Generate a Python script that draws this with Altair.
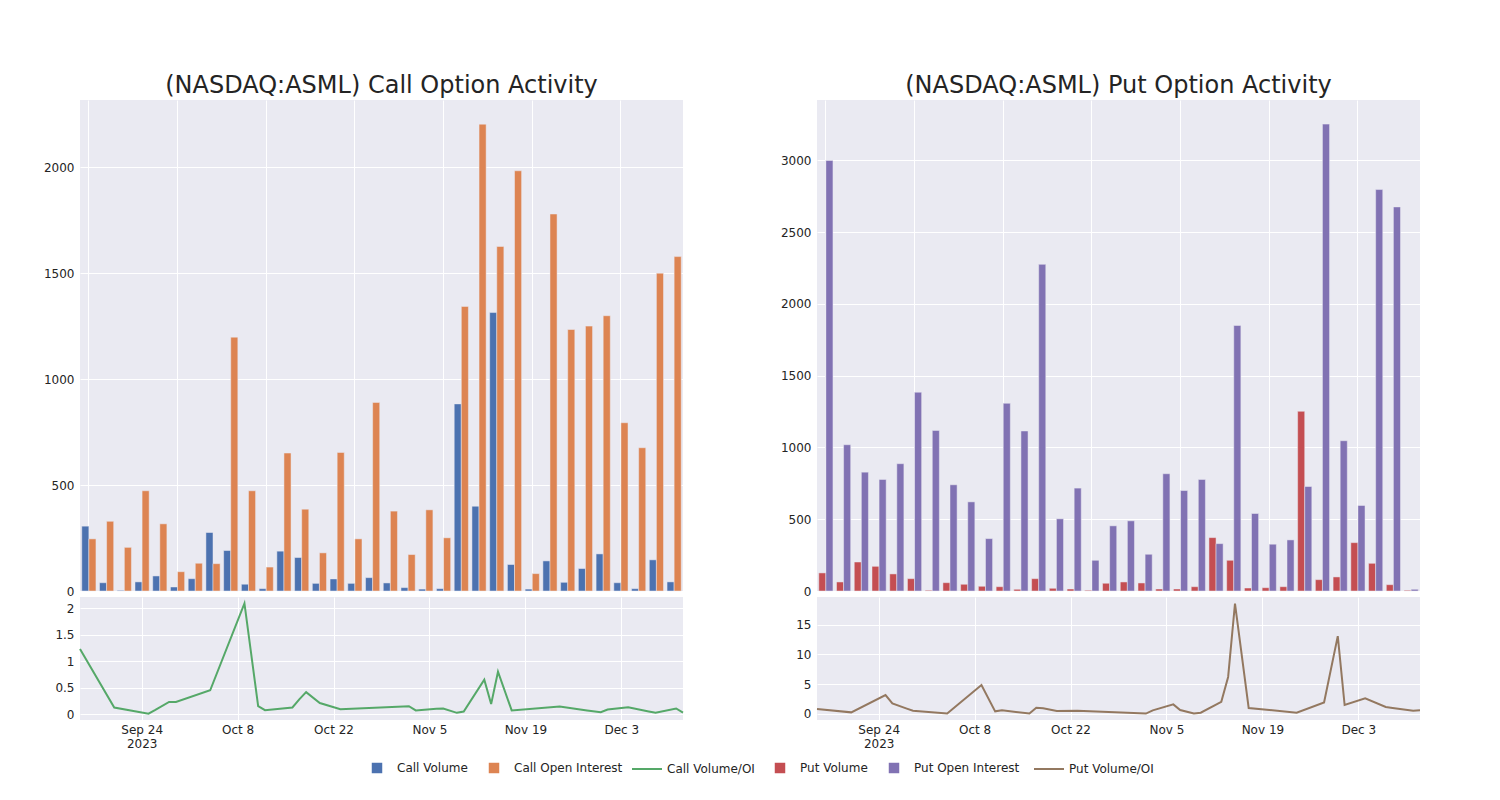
import altair as alt
import pandas as pd

dates = ["2023-09-15", "2023-09-20", "2023-09-25", "2023-09-26", "2023-09-28", "2023-09-29",
         "2023-10-04", "2023-10-09", "2023-10-11", "2023-10-12", "2023-10-16", "2023-10-17",
         "2023-10-18", "2023-10-20", "2023-10-23", "2023-11-02", "2023-11-03", "2023-11-06",
         "2023-11-07", "2023-11-09", "2023-11-10", "2023-11-13", "2023-11-14", "2023-11-15",
         "2023-11-17", "2023-11-24", "2023-11-28", "2023-11-30", "2023-12-01", "2023-12-04",
         "2023-12-07", "2023-12-08", "2023-12-11", "2023-12-12"]

call_volume = [306, 39, 3, 43, 71, 19, 58, 276, 191, 32, 11, 188, 158, 36, 57, 36, 63,
               38, 16, 9, 11, 883, 400, 1314, 125, 9, 142, 41, 106, 175, 39, 11, 147, 43]
call_oi = [246, 329, 206, 473, 317, 91, 131, 129, 1198, 473, 113, 651, 386, 180, 654, 246, 890,
           377, 172, 383, 251, 1343, 2203, 1626, 1983, 82, 1779, 1234, 1250, 1299, 794, 676, 1500, 1578]
call_ratio = [1.23, 0.126, 0.01, 0.08, 0.23, 0.23, 0.45, 2.09, 0.15, 0.075, 0.126, 0.28,
              0.415, 0.21, 0.094, 0.15, 0.07, 0.1, 0.107, 0.025, 0.05, 0.65, 0.19, 0.80,
              0.07, 0.145, 0.07, 0.038, 0.088, 0.13, 0.05, 0.025, 0.107, 0.03]

put_volume = [126, 63, 202, 172, 119, 86, 5, 58, 47, 33, 30, 12, 86, 19, 14, 5, 54,
              63, 56, 14, 14, 30, 372, 214, 21, 23, 30, 1252, 79, 98, 337, 193, 44, 5]
put_oi = [3000, 1019, 828, 777, 887, 1385, 1119, 740, 621, 365, 1308, 1115, 2276, 503, 717, 214, 454,
          489, 256, 817, 700, 777, 330, 1850, 540, 326, 356, 728, 3253, 1047, 596, 2797, 2676, 12]
put_ratio = [0.79, 0.22, 3.15, 1.74, 0.9, 0.5, 0.02, 4.83, 0.39, 0.56, 0.02, 1.0,
             0.9, 0.45, 0.5, 0.02, 0.56, 1.57, 0.62, 0.02, 0.17, 2.0, 6.2, 18.6,
             0.95, 0.17, 1.9, 13.1, 1.46, 2.58, 1.12, 0.97, 0.5, 0.56]

call_bar_names = ["Call Volume", "Call Open Interest"]
call_bar_colors = ["#4C72B0", "#DD8452"]
call_line_name = "Call Volume/OI"
call_line_color = "#55A868"
put_bar_names = ["Put Volume", "Put Open Interest"]
put_bar_colors = ["#C44E52", "#8172B3"]
put_line_name = "Put Volume/OI"
put_line_color = "#937860"

FONT = "DejaVu Sans"
BG = "#EAEAF2"
TXT = "#242424"

W = 603
H_TOP = 491
H_BOT = 123


def sq_legend(x, y):
    return alt.Legend(orient="none", legendX=x, legendY=y, direction="horizontal", title=None,
                      labelFont=FONT, labelFontSize=12, labelColor=TXT, labelOffset=14,
                      columnPadding=20, symbolType="square", symbolSize=110, symbolStrokeWidth=0,
                      symbolOpacity=1)


def ln_legend(x, y):
    return alt.Legend(orient="none", legendX=x, legendY=y, direction="horizontal", title=None,
                      labelFont=FONT, labelFontSize=12, labelColor=TXT, labelOffset=4,
                      symbolType="stroke", symbolSize=900, symbolStrokeWidth=2, symbolOpacity=1)


def bars(names, colors, vol, oi, ymax, title, lx, ly):
    df = pd.DataFrame({
        "date": dates * 2,
        "series": [names[0]] * len(dates) + [names[1]] * len(dates),
        "value": list(vol) + list(oi),
    })
    return alt.Chart(df, title=alt.TitleParams(
        title, fontSize=24, font=FONT, fontWeight="normal", color=TXT, anchor="middle", offset=2
    )).mark_bar(stroke=BG, strokeWidth=0.5).encode(
        x=alt.X("date:O", sort=dates,
                scale=alt.Scale(paddingInner=0.2, paddingOuter=0.1),
                axis=alt.Axis(values=[dates[i] for i in range(0, 34, 5)], labels=False,
                              ticks=False, domain=False, title=None, grid=True, bandPosition=0.5)),
        xOffset=alt.XOffset("series:N", sort=names,
                            scale=alt.Scale(domain=names, paddingInner=0, paddingOuter=0)),
        y=alt.Y("value:Q", scale=alt.Scale(domain=[0, ymax], nice=False, zero=False),
                axis=alt.Axis(values=list(range(0, int(ymax), 500)), title=None, format="d")),
        fill=alt.Fill("series:N", scale=alt.Scale(domain=names, range=colors), legend=sq_legend(lx, ly)),
    ).properties(width=W, height=H_TOP)


tick_dates = [alt.DateTime(year=2023, month=m, date=d, utc=True)
              for m, d in [(9, 24), (10, 8), (10, 22), (11, 5), (11, 19), (12, 3)]]


def ratio_line(name, col, vals, ydom, yticks, lx, ly):
    df = pd.DataFrame({"date": dates, "series": [name] * len(dates), "value": vals})
    return alt.Chart(df).mark_line(strokeWidth=2).encode(
        x=alt.X("date:T",
                scale=alt.Scale(type="utc", domain=[
                    alt.DateTime(year=2023, month=9, date=15, utc=True),
                    alt.DateTime(year=2023, month=12, date=12, utc=True)]),
                axis=alt.Axis(values=tick_dates, title=None, ticks=False, domain=False, grid=True,
                              labelPadding=4,
                              labelExpr="utcFormat(datum.value, '%b %-d') == 'Sep 24' ? ['Sep 24', '2023'] : utcFormat(datum.value, '%b %-d')")),
        y=alt.Y("value:Q", scale=alt.Scale(domain=ydom, nice=False, zero=False),
                axis=alt.Axis(values=yticks, title=None, format="~g")),
        stroke=alt.Stroke("series:N", scale=alt.Scale(domain=[name], range=[col]), legend=ln_legend(lx, ly)),
    ).properties(width=W, height=H_BOT)


top_left = bars(call_bar_names, call_bar_colors, call_volume, call_oi, 2317,
                "(NASDAQ:ASML) Call Option Activity", 291, 662)
top_right = bars(put_bar_names, put_bar_colors, put_volume, put_oi, 3421,
                 "(NASDAQ:ASML) Put Option Activity", -43, 662)
bot_left = ratio_line(call_line_name, call_line_color, call_ratio, [-0.11, 2.21],
                      [0, 0.5, 1, 1.5, 2], 551, 156)
bot_right = ratio_line(put_line_name, put_line_color, put_ratio, [-1.07, 19.7],
                       [0, 5, 10, 15], 216, 156)

chart = alt.concat(
    top_left, top_right, bot_left, bot_right,
    columns=2, bounds="flush", spacing={"row": 6, "column": 134},
).resolve_scale(
    fill="independent", stroke="independent", x="independent", y="independent",
    xOffset="independent"
).properties(
    padding={"left": 35, "top": 66, "right": 20, "bottom": 20},
    background="white",
).configure_view(fill=BG, stroke=None).configure_axis(
    gridColor="white", gridWidth=1, gridOpacity=1, labelFont=FONT, labelFontSize=12,
    labelColor=TXT, domain=False, ticks=False, labelPadding=6,
).configure_scale(offsetBandPaddingInner=0, offsetBandPaddingOuter=0)

chart.save("out.html", embed_options={"renderer": "svg", "actions": False})
